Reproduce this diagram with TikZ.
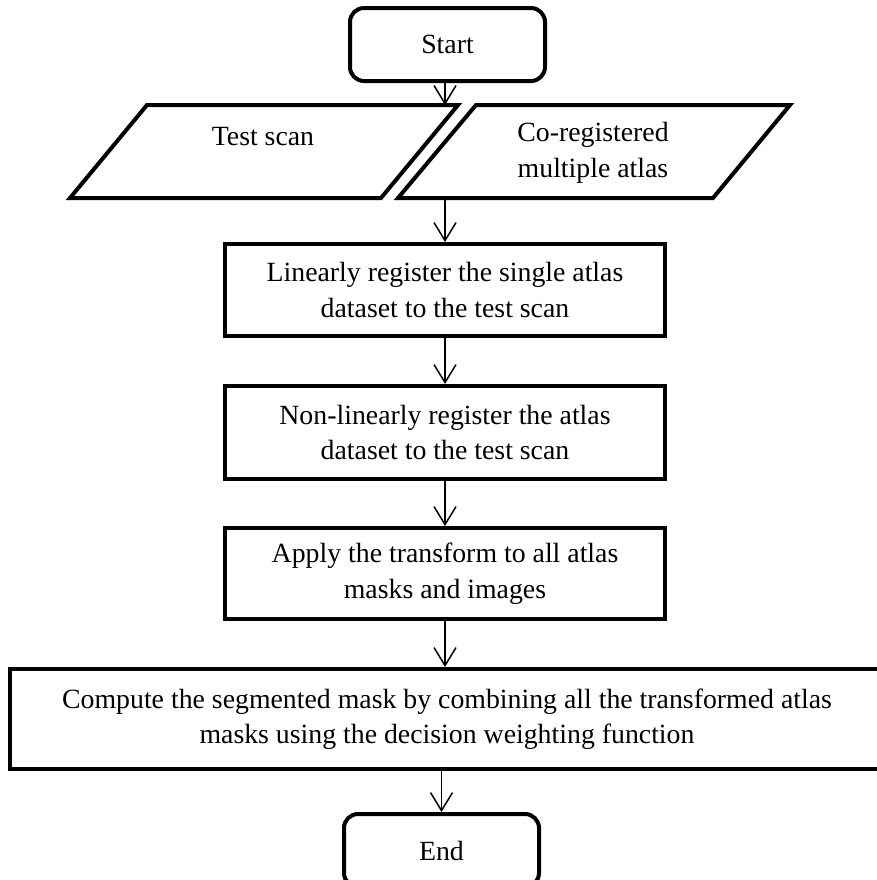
\documentclass[tikz,border=0pt]{standalone}
\usepackage{fontspec}
\setmainfont{Liberation Serif}
\usetikzlibrary{arrows.meta}
\begin{document}
\begin{tikzpicture}[x=0.5pt,y=-0.5pt,>={Straight Barb[length=9pt,width=11pt]},
  font=\fontsize{13.9}{17.75}\selectfont,
  term/.style={draw,line width=2pt,rounded corners=7pt,minimum width=97.5pt,minimum height=36.5pt,inner sep=0pt},
  iobox/.style={draw,line width=2pt,line join=miter},
  procbox/.style={draw,line width=2pt,minimum width=220pt,inner sep=0pt,align=center},
  flow/.style={->,line width=0.75pt}]
  \useasboundingbox (0,0) rectangle (877,880);

  % start
  \node[term] (start) at (447.5,44.5) {Start};

  % inputs (parallelograms)
  \coordinate (tscanTL) at (147,105);
  \coordinate (tscanTR) at (458,105);
  \coordinate (tscanBR) at (381,198);
  \coordinate (tscanBL) at (70,198);
  \coordinate (atlasTL) at (476,105);
  \coordinate (atlasTR) at (790,105);
  \coordinate (atlasBR) at (713,198);
  \coordinate (atlasBL) at (398,198);
  \draw[iobox] (tscanTL) -- (tscanTR) -- (tscanBR) -- (tscanBL) -- cycle;
  \draw[iobox] (atlasTL) -- (atlasTR) -- (atlasBR) -- (atlasBL) -- cycle;
  \node (tscan) at (263,137) {Test scan};
  \node[align=center] (atlas) at (593,153) {Co-registered\\multiple atlas};

  % processing steps
  \node[procbox,minimum height=46pt] (box1) at (445,290)
    {Linearly register the single atlas\\dataset to the test scan};
  \node[procbox,minimum height=46.5pt] (box2) at (445,432.5)
    {Non-linearly register the atlas\\dataset to the test scan};
  \node[procbox,minimum height=45.5pt] (box3) at (445,573.5)
    {Apply the transform to all atlas\\masks and images};
  \node[procbox,minimum width=437pt,minimum height=50pt] (box4) at (447,719)
    {Compute the segmented mask by combining all the transformed atlas\\masks using the decision weighting function};
  \node[term] (stop) at (441.5,850.5) {End};

  % arrows
  \draw[flow] (box1.north |- start.south) -- (box1.north |- tscanTL);
  \draw[flow] (box1.north |- atlasBL) -- (box1.north);
  \draw[flow] (box1) -- (box2);
  \draw[flow] (box2) -- (box3);
  \draw[flow] (box3.south) -- (box3.south |- box4.north);
  \draw[flow] (stop.north |- box4.south) -- (stop.north);
\end{tikzpicture}
\end{document}
